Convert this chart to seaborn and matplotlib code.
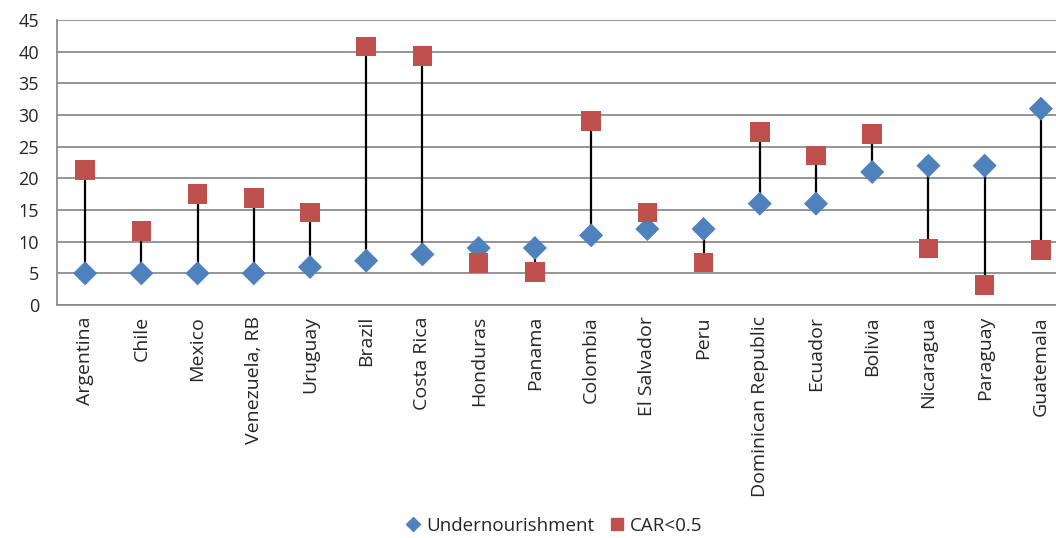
import matplotlib
matplotlib.use("Agg")
import matplotlib.pyplot as plt
from matplotlib.lines import Line2D
import numpy as np
import pandas as pd
import seaborn as sns

countries = ["Argentina", "Chile", "Mexico", "Venezuela, RB", "Uruguay", "Brazil",
             "Costa Rica", "Honduras", "Panama", "Colombia", "El Salvador", "Peru",
             "Dominican Republic", "Ecuador", "Bolivia", "Nicaragua", "Paraguay",
             "Guatemala"]
undernourishment = [5, 5, 5, 5, 6, 7, 8, 9, 9, 11, 12, 12, 16, 16, 21, 22, 22, 31]
car_below_half = [21.3, 11.7, 17.5, 16.9, 14.6, 40.8, 39.3, 6.6, 5.2, 29.1, 14.6, 6.7,
                  27.3, 23.6, 27.0, 8.9, 3.2, 8.7]
y_ticks = [0, 5, 10, 15, 20, 25, 30, 35, 40, 45]

blue = "#4F81BD"
red = "#C0504D"
grid_grey = "#8C8C8C"

sns.set_style("white")
plt.rcParams["font.family"] = ["Open Sans", "DejaVu Sans"]

df = pd.DataFrame({"country": countries,
                   "Undernourishment": undernourishment,
                   "CAR<0.5": car_below_half})

fig = plt.figure(figsize=(10.56, 5.38), dpi=100)
ax = fig.add_axes([57 / 1056, 1 - 305 / 538, (1069 - 57) / 1056, 285 / 538])

# connectors between the two series for each country
pos = np.arange(len(countries))
ax.vlines(pos, df["Undernourishment"], df["CAR<0.5"], color="black", lw=1.6, zorder=2)

sns.scatterplot(data=df, x="country", y="Undernourishment", marker="D", color=blue,
                s=150, edgecolor="none", linewidth=0, ax=ax, zorder=3)
sns.scatterplot(data=df, x="country", y="CAR<0.5", marker="s", color=red,
                s=200, edgecolor="none", linewidth=0, ax=ax, zorder=3)

ax.set_xlim(-0.5, len(countries) - 0.5)
ax.set_ylim(0, 45)
ax.set_yticks(y_ticks)
ax.set_yticklabels([str(v) for v in y_ticks], fontsize=13)
ax.set_xticks(pos)
ax.set_xticklabels(countries, rotation=90, fontsize=14)
ax.tick_params(axis="x", length=0, pad=8)
ax.set_xticks(np.arange(len(countries) + 1) - 0.5, minor=True)
ax.tick_params(axis="x", which="minor", length=4, width=1.2, color=grid_grey, direction="out")
ax.tick_params(axis="y", length=5, width=1.2, color=grid_grey, direction="out", pad=8)
ax.set_xlabel("")
ax.set_ylabel("")

ax.yaxis.grid(True, color=grid_grey, lw=1.3)
ax.set_axisbelow(True)
for side in ["top", "right"]:
    ax.spines[side].set_visible(False)
for side in ["left", "bottom"]:
    ax.spines[side].set_color(grid_grey)
    ax.spines[side].set_linewidth(1.3)

handles = [Line2D([], [], marker="D", color=blue, ls="none", markersize=7),
           Line2D([], [], marker="s", color=red, ls="none", markersize=9)]
fig.legend(handles, ["Undernourishment", "CAR<0.5"], loc="center",
           bbox_to_anchor=(553 / 1056, 1 - 526 / 538), ncol=2, frameon=False,
           fontsize=13.5, handletextpad=0.2, columnspacing=0.7, handlelength=1.0)

fig.savefig("out.png", dpi=100)
